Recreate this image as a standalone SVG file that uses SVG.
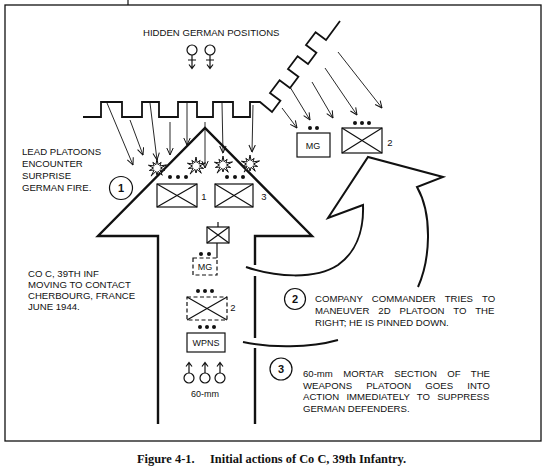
<svg xmlns="http://www.w3.org/2000/svg" width="550" height="469" viewBox="0 0 550 469">
<defs>
<style>
.t{font-family:"Liberation Sans",Arial,sans-serif;font-size:9.6px;fill:#111}
.s{font-family:"Liberation Sans",Arial,sans-serif;font-size:9px;fill:#111;text-anchor:middle}
.ln{fill:none;stroke:#111;stroke-width:1.2}
.trench{fill:none;stroke:#111;stroke-width:1.8;stroke-linejoin:miter}
.thick{fill:none;stroke:#111;stroke-width:2.4;stroke-linejoin:miter}
.curve{fill:none;stroke:#111;stroke-width:2;stroke-linejoin:miter}
.fire{fill:none;stroke:#111;stroke-width:0.9;marker-end:url(#ah)}
.box{fill:#fff;stroke:#111;stroke-width:1.2}
.dash{stroke-dasharray:4 2.5}
.dot{fill:#111}
.circ{fill:#fff;stroke:#111;stroke-width:1.2}
.num{font-family:"Liberation Sans",Arial,sans-serif;font-size:11px;font-weight:bold;text-anchor:middle;fill:#111}
.lab{font-family:"Liberation Sans",Arial,sans-serif;font-size:9.5px;fill:#111;text-anchor:middle}
.cap{font-family:"Liberation Serif","Times New Roman",serif;font-size:12.4px;font-weight:bold;fill:#111}
.burst{fill:#fff;stroke:#111;stroke-width:1;stroke-linejoin:miter}
</style>
<marker id="ah" viewBox="0 0 8 8" refX="7.5" refY="4" markerWidth="8" markerHeight="8" markerUnits="userSpaceOnUse" orient="auto">
<path d="M0.5,0.8 L7.5,4 L0.5,7.2" fill="none" stroke="#111" stroke-width="1"/>
</marker>
<path id="burstShape" d="M0,-9 L1.08,-3.33 L4.11,-5.66 L2.83,-2.06 L9.51,-3.09 L3.5,0 L7.61,2.47 L2.83,2.06 L5.29,7.28 L1.08,3.33 L0,7 L-1.08,3.33 L-5.88,8.09 L-2.83,2.06 L-7.61,2.47 L-3.5,0 L-8.56,-2.78 L-2.83,-2.06 L-4.11,-5.66 L-1.08,-3.33 Z"/>
<g id="mortarUp">
<circle cx="0" cy="0" r="5" class="ln"/>
<path d="M0,-5 L0,-15 M-3,-11.5 L0,-15.5 L3,-11.5" class="ln"/>
</g>
<g id="mortarDown">
<circle cx="0" cy="0" r="5" class="ln"/>
<path d="M0,5 L0,18 M-4,10 L4,10 M-3,14.5 L0,18.5 L3,14.5" class="ln"/>
</g>
</defs>

<rect x="0" y="0" width="550" height="469" fill="#fff"/>

<g id="frame">
<rect x="5" y="5" width="536" height="436" fill="none" stroke="#111" stroke-width="1.3"/>
<line x1="128" y1="0" x2="128" y2="5" stroke="#111" stroke-width="1.2"/>
</g>

<g id="caption">
<text class="cap" x="137" y="463">Figure 4-1.</text>
<text class="cap" x="210" y="463">Initial actions of Co C, 39th Infantry.</text>
</g>

<g id="hidden-positions">
<text class="t" x="143" y="36">HIDDEN GERMAN POSITIONS</text>
<use href="#mortarDown" x="192" y="50"/>
<use href="#mortarDown" x="210" y="50"/>
</g>

<g id="trench">
<path class="trench" d="M83,117 L101,117 L101,102 L122,102 L122,117 L142,117 L142,102 L159,102 L159,117 L178,117 L178,102 L197,102 L197,117 L213,117 L213,102 L233,102 L233,117 L250,117 L250,102 L260,102 L272,112 L280.4,100.8 L270,93 L279.6,80.2 L290,88 L298.4,76.8 L288,69 L297.6,56.2 L308,64 L316.4,52.8 L306,45 L315.6,32.2 L326,40 L340,21"/>
</g>

<g id="big-arrow">
<path class="thick" d="M158,424 L158,236 L98,236 L205,128 L312,236 L255,236 L255,265"/>
<path class="thick" d="M255,276 L255,338 M255,348 L255,424"/>
</g>

<g id="maneuver-arrow">
<path class="curve" d="M246,267 C275,277 315,280 338,265 C355,253 364,232 363,205 L328,218 L368,157 L443,177 L417,187 C433,215 430,260 418,287"/>
<path class="curve" d="M243,342 C270,348 310,348 338,340"/>
</g>

<g id="connectors">
<line class="fire" x1="107" y1="103" x2="133" y2="165"/>
<line class="fire" x1="130" y1="120" x2="143" y2="155"/>
<line class="fire" x1="150" y1="103" x2="157" y2="160"/>
<line class="fire" x1="170" y1="122" x2="170" y2="155"/>
<line class="fire" x1="187" y1="103" x2="187" y2="145"/>
<line class="fire" x1="205" y1="122" x2="205" y2="168"/>
<line class="fire" x1="222" y1="103" x2="223" y2="153"/>
<line class="fire" x1="253" y1="105" x2="252" y2="152"/>
<line class="fire" x1="282" y1="108" x2="297" y2="128"/>
<line class="fire" x1="290" y1="87" x2="310" y2="120"/>
<line class="fire" x1="312" y1="82" x2="333" y2="118"/>
<line class="fire" x1="325" y1="68" x2="357" y2="115"/>
<line class="fire" x1="338" y1="52" x2="382" y2="108"/>
</g>

<g id="bursts">
<use href="#burstShape" class="burst" x="157" y="168"/>
<use href="#burstShape" class="burst" x="196" y="166"/>
<use href="#burstShape" class="burst" x="223" y="165"/>
<use href="#burstShape" class="burst" x="250" y="164"/>
</g>

<g id="platoon-1">
<circle class="dot" cx="170" cy="177" r="2"/><circle class="dot" cx="178" cy="177" r="2"/><circle class="dot" cx="186" cy="177" r="2"/>
<rect class="box" x="157" y="184" width="40" height="23"/>
<path class="ln" d="M157,184 L197,207 M197,184 L157,207"/>
<text class="lab" x="204" y="200">1</text>
</g>

<g id="platoon-3">
<circle class="dot" cx="227" cy="177" r="2"/><circle class="dot" cx="235" cy="177" r="2"/><circle class="dot" cx="243" cy="177" r="2"/>
<rect class="box" x="215" y="184" width="38" height="23"/>
<path class="ln" d="M215,184 L253,207 M253,184 L215,207"/>
<text class="lab" x="264" y="200">3</text>
</g>

<g id="hq">
<rect class="box" x="207" y="227" width="22" height="16"/>
<path class="ln" d="M207,227 L229,243 M229,227 L207,243 M218,222 L218,227 M217,243 L217,258"/>
</g>

<g id="mg-section">
<circle class="dot" cx="201" cy="254" r="2"/><circle class="dot" cx="209" cy="254" r="2"/>
<rect class="box dash" x="193" y="258" width="24" height="17"/>
<text class="s" x="205" y="270">MG</text>
</g>

<g id="platoon-2">
<circle class="dot" cx="198" cy="291" r="2"/><circle class="dot" cx="205" cy="291" r="2"/><circle class="dot" cx="212" cy="291" r="2"/>
<rect class="box dash" x="187" y="297" width="40" height="23"/>
<path class="ln" d="M187,297 L227,320 M227,297 L187,320"/>
<text class="lab" x="233" y="311">2</text>
</g>

<g id="weapons-platoon">
<circle class="dot" cx="200" cy="327" r="2"/><circle class="dot" cx="207" cy="327" r="2"/><circle class="dot" cx="214" cy="327" r="2"/>
<rect class="box" x="187" y="333" width="38" height="19"/>
<text class="s" x="206" y="346" font-size="9.5">WPNS</text>
</g>

<g id="mortars">
<use href="#mortarUp" x="189" y="378"/>
<use href="#mortarUp" x="205" y="378"/>
<use href="#mortarUp" x="220" y="378"/>
<text class="s" x="205" y="397">60-mm</text>
</g>

<g id="enemy-mg">
<circle class="dot" cx="310" cy="128" r="2"/><circle class="dot" cx="317" cy="128" r="2"/>
<rect class="box" x="297" y="133" width="33" height="24"/>
<text class="s" x="313" y="149" font-size="9.6">MG</text>
</g>

<g id="enemy-platoon">
<circle class="dot" cx="355" cy="123" r="2"/><circle class="dot" cx="362" cy="123" r="2"/><circle class="dot" cx="369" cy="123" r="2"/>
<rect class="box" x="342" y="128" width="40" height="25"/>
<path class="ln" d="M342,128 L382,153 M382,128 L342,153"/>
<text class="lab" x="390" y="146">2</text>
</g>

<g id="note-1">
<circle class="circ" cx="121" cy="188" r="11.5"/>
<text class="num" x="121" y="192">1</text>
<text class="t" x="22" y="155">LEAD PLATOONS</text>
<text class="t" x="22" y="167">ENCOUNTER</text>
<text class="t" x="22" y="179">SURPRISE</text>
<text class="t" x="22" y="191">GERMAN FIRE.</text>
</g>

<g id="unit-note">
<text class="t" x="28" y="277">CO C, 39TH INF</text>
<text class="t" x="28" y="288">MOVING TO CONTACT</text>
<text class="t" x="28" y="299">CHERBOURG, FRANCE</text>
<text class="t" x="28" y="310">JUNE 1944.</text>
</g>

<g id="note-2">
<circle class="circ" cx="295" cy="299" r="10.5"/>
<text class="num" x="295" y="303">2</text>
<text class="t" x="315" y="302" word-spacing="6.5">COMPANY COMMANDER TRIES TO</text>
<text class="t" x="315" y="313.5" word-spacing="6.3">MANEUVER 2D PLATOON TO THE</text>
<text class="t" x="315" y="325.5">RIGHT; HE IS PINNED DOWN.</text>
</g>

<g id="note-3">
<circle class="circ" cx="281" cy="369" r="11"/>
<text class="num" x="281" y="373">3</text>
<text class="t" x="303" y="377" word-spacing="7.7">60-mm MORTAR SECTION OF THE</text>
<text class="t" x="303" y="388.5" word-spacing="11.5">WEAPONS PLATOON GOES INTO</text>
<text class="t" x="303" y="400" word-spacing="4.5">ACTION IMMEDIATELY TO SUPPRESS</text>
<text class="t" x="303" y="411.5">GERMAN DEFENDERS.</text>
</g>
</svg>
